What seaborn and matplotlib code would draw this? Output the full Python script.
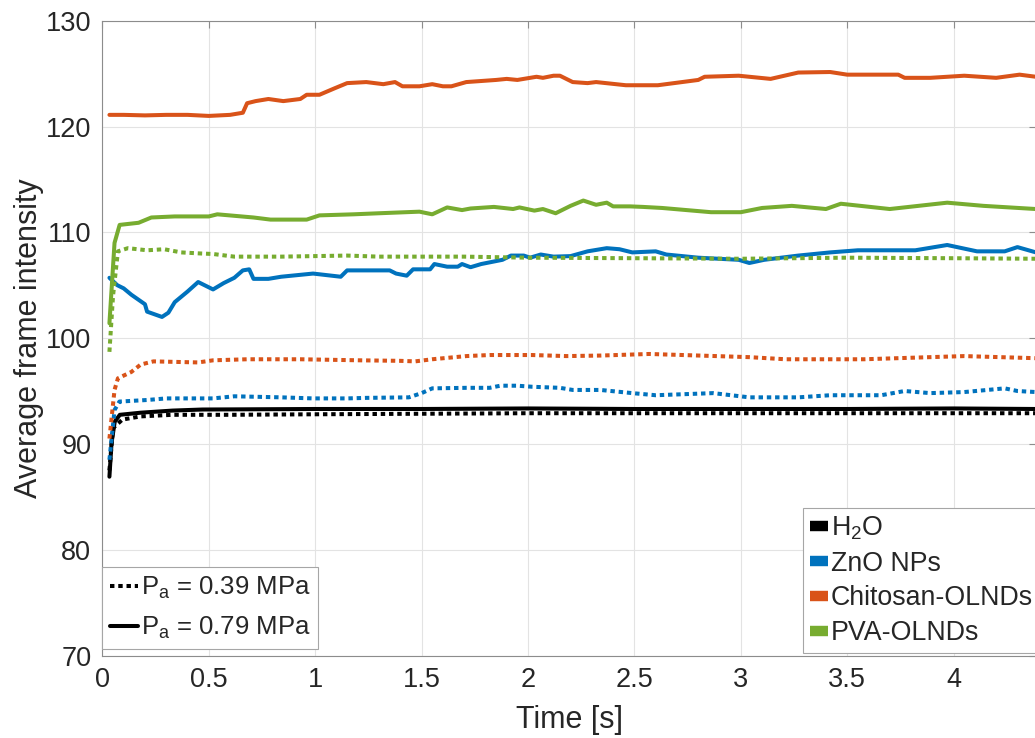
import numpy as np
import pandas as pd
import matplotlib
matplotlib.use("Agg")
import matplotlib.pyplot as plt
from matplotlib.lines import Line2D
import seaborn as sns

# ---------------- data ----------------
# H2O, Pa = 0.79 MPa (solid)
t_h2o_079 = [0.033, 0.043, 0.058, 0.082, 0.18, 0.33, 0.47, 1.0, 1.5, 2.0, 2.5, 3.0, 3.5, 4.0, 4.387]
v_h2o_079 = [86.9, 90.1, 92.1, 92.75, 92.95, 93.15, 93.25, 93.3, 93.3, 93.35, 93.3, 93.3, 93.3, 93.35, 93.3]
# H2O, Pa = 0.39 MPa (dotted)
t_h2o_039 = [0.033, 0.05, 0.094, 0.18, 0.33, 0.6, 1.0, 2.0, 3.0, 4.0, 4.387]
v_h2o_039 = [87.5, 91.5, 92.3, 92.6, 92.75, 92.75, 92.8, 92.9, 92.9, 92.9, 92.9]

# ZnO NPs, 0.79 MPa
t_zno_079 = [0.033, 0.07, 0.1, 0.136, 0.2, 0.21, 0.28, 0.31, 0.34, 0.40, 0.45, 0.52, 0.57, 0.62, 0.66,
             0.69, 0.71, 0.78, 0.84, 0.99, 1.12, 1.15, 1.30, 1.35, 1.38, 1.43, 1.46, 1.54, 1.56, 1.62,
             1.67, 1.69, 1.73, 1.78, 1.88, 1.92, 1.98, 2.01, 2.06, 2.12, 2.2, 2.28, 2.37, 2.43, 2.49,
             2.6, 2.65, 2.8, 2.99, 3.04, 3.11, 3.27, 3.42, 3.55, 3.66, 3.82, 3.97, 4.11, 4.24, 4.30, 4.387]
v_zno_079 = [105.7, 105.0, 104.7, 104.1, 103.2, 102.5, 102.0, 102.4, 103.4, 104.4, 105.3, 104.6, 105.2, 105.7, 106.4,
             106.5, 105.6, 105.6, 105.8, 106.1, 105.8, 106.4, 106.4, 106.4, 106.1, 105.9, 106.5, 106.5, 107.0, 106.75,
             106.75, 107.0, 106.7, 107.0, 107.4, 107.8, 107.8, 107.6, 107.9, 107.7, 107.75, 108.2, 108.5, 108.4, 108.1,
             108.2, 107.9, 107.6, 107.4, 107.1, 107.4, 107.8, 108.1, 108.3, 108.3, 108.3, 108.8, 108.2, 108.2, 108.6, 108.1]
# ZnO NPs, 0.39 MPa
t_zno_039 = [0.033, 0.057, 0.08, 0.21, 0.3, 0.52, 0.62, 0.84, 0.99, 1.15, 1.24, 1.44, 1.5, 1.55, 1.71, 1.82,
             1.87, 1.95, 2.02, 2.15, 2.21, 2.34, 2.49, 2.6, 2.87, 3.04, 3.27, 3.42, 3.66, 3.77, 3.89, 4.05,
             4.24, 4.30, 4.387]
v_zno_039 = [88.5, 93.2, 94.0, 94.15, 94.3, 94.3, 94.5, 94.4, 94.3, 94.3, 94.35, 94.4, 94.8, 95.25, 95.3, 95.3,
             95.5, 95.5, 95.4, 95.3, 95.1, 95.1, 94.8, 94.6, 94.8, 94.4, 94.4, 94.6, 94.6, 95.0, 94.8, 94.9,
             95.25, 95.0, 94.9]

# Chitosan-OLNDs, 0.79 MPa
t_chi_079 = [0.033, 0.1, 0.2, 0.3, 0.4, 0.5, 0.6, 0.66, 0.68, 0.72, 0.78, 0.85, 0.93, 0.96, 1.02, 1.09,
             1.15, 1.24, 1.32, 1.375, 1.41, 1.49, 1.55, 1.6, 1.64, 1.71, 1.85, 1.9, 1.95, 2.04, 2.07, 2.12,
             2.15, 2.21, 2.28, 2.32, 2.46, 2.61, 2.8, 2.83, 2.99, 3.14, 3.27, 3.42, 3.5, 3.74, 3.77, 3.89,
             4.05, 4.2, 4.31, 4.387]
v_chi_079 = [121.1, 121.1, 121.05, 121.1, 121.1, 121.0, 121.1, 121.3, 122.2, 122.4, 122.6, 122.4, 122.6, 123.0, 123.0, 123.6,
             124.1, 124.2, 124.0, 124.2, 123.8, 123.8, 124.0, 123.8, 123.8, 124.2, 124.4, 124.5, 124.4, 124.7, 124.6, 124.8,
             124.8, 124.2, 124.1, 124.2, 123.9, 123.9, 124.4, 124.7, 124.8, 124.5, 125.1, 125.15, 124.9, 124.9, 124.6, 124.6,
             124.8, 124.6, 124.9, 124.7]
# Chitosan-OLNDs, 0.39 MPa
t_chi_039 = [0.033, 0.057, 0.073, 0.136, 0.18, 0.24, 0.45, 0.52, 0.68, 0.93, 1.21, 1.4, 1.47, 1.55, 1.71,
             1.82, 2.02, 2.18, 2.34, 2.57, 3.04, 3.21, 3.58, 3.89, 4.05, 4.387]
v_chi_039 = [90.5, 95.1, 96.2, 96.8, 97.5, 97.8, 97.7, 97.9, 98.0, 98.0, 97.9, 97.85, 97.8, 98.0, 98.3,
             98.4, 98.4, 98.3, 98.35, 98.5, 98.2, 98.0, 98.0, 98.2, 98.3, 98.1]

# PVA-OLNDs, 0.79 MPa
t_pva_079 = [0.033, 0.057, 0.081, 0.17, 0.23, 0.34, 0.5, 0.54, 0.71, 0.79, 0.96, 1.02, 1.18, 1.30, 1.49,
             1.55, 1.62, 1.69, 1.73, 1.84, 1.93, 1.96, 2.03, 2.07, 2.13, 2.2, 2.26, 2.32, 2.37, 2.4, 2.48,
             2.54, 2.63, 2.86, 3.0, 3.1, 3.24, 3.40, 3.47, 3.70, 3.97, 4.14, 4.387]
v_pva_079 = [101.4, 109.0, 110.7, 110.9, 111.4, 111.5, 111.5, 111.7, 111.4, 111.2, 111.2, 111.6, 111.7, 111.8, 111.95,
             111.7, 112.35, 112.1, 112.25, 112.4, 112.2, 112.35, 112.05, 112.2, 111.8, 112.5, 113.0, 112.6, 112.8, 112.45, 112.45,
             112.4, 112.3, 111.9, 111.9, 112.3, 112.5, 112.2, 112.7, 112.2, 112.8, 112.5, 112.2]
# PVA-OLNDs, 0.39 MPa
t_pva_039 = [0.033, 0.05, 0.073, 0.12, 0.21, 0.29, 0.37, 0.46, 0.52, 0.62, 0.84, 1.15, 1.3, 1.7, 2.0,
             2.5, 3.0, 3.5, 4.0, 4.387]
v_pva_039 = [98.7, 104.0, 108.2, 108.5, 108.3, 108.4, 108.1, 108.0, 107.95, 107.7, 107.7, 107.8, 107.7, 107.7, 107.6,
             107.55, 107.5, 107.6, 107.55, 107.5]

materials = ["H$_2$O", "ZnO NPs", "Chitosan-OLNDs", "PVA-OLNDs"]
colors = ["#000000", "#0072BD", "#D95319", "#77AC30"]
pressure_labels = ["P$_\\mathrm{a}$ = 0.39 MPa", "P$_\\mathrm{a}$ = 0.79 MPa"]
x_ticks = [0, 0.5, 1, 1.5, 2, 2.5, 3, 3.5, 4]
x_tick_labels = ["0", "0.5", "1", "1.5", "2", "2.5", "3", "3.5", "4"]
y_ticks = [70, 80, 90, 100, 110, 120, 130]

# ---------------- style ----------------
sns.set_style("white")
plt.rcParams["font.family"] = ["Liberation Sans", "DejaVu Sans"]
plt.rcParams["mathtext.fontset"] = "custom"
plt.rcParams["mathtext.rm"] = "Liberation Sans"
plt.rcParams["mathtext.it"] = "Liberation Sans:italic"
plt.rcParams["mathtext.bf"] = "Liberation Sans:bold"

W, H = 1035, 738
fig = plt.figure(figsize=(W / 100, H / 100), dpi=100)
ax_left, ax_right, ax_top, ax_bot = 102.4, 1036.0, 20.7, 655.5
ax = fig.add_axes([ax_left / W, 1 - ax_bot / H, (ax_right - ax_left) / W, (ax_bot - ax_top) / H])

solid_series = [(t_h2o_079, v_h2o_079), (t_zno_079, v_zno_079), (t_chi_079, v_chi_079), (t_pva_079, v_pva_079)]
dotted_series = [(t_h2o_039, v_h2o_039), (t_zno_039, v_zno_039), (t_chi_039, v_chi_039), (t_pva_039, v_pva_039)]

LW = 2.9
DOT = (0, (1.1, 0.95))
for (t, v), c in zip(solid_series, colors):
    sns.lineplot(x=t, y=v, ax=ax, color=c, linewidth=LW, estimator=None, sort=False, zorder=3)
for (t, v), c in zip(dotted_series, colors):
    sns.lineplot(x=t, y=v, ax=ax, color=c, linewidth=LW, linestyle=DOT, estimator=None, sort=False, zorder=4)

ax.set_xlim(0, (ax_right - ax_left) / 212.8)
ax.set_ylim(70, 130)
ax.set_xticks(x_ticks)
ax.set_xticklabels(x_tick_labels)
ax.set_yticks(y_ticks)

ax.grid(True, color="#e3e3e3", linewidth=0.8, zorder=0)
ax.set_axisbelow(True)
for s in ax.spines.values():
    s.set_color("#8c8c8c")
    s.set_linewidth(0.8)
ax.tick_params(axis="both", which="both", direction="in", length=5, width=0.8, color="#8c8c8c",
               top=True, right=True, labelsize=19.5, labelcolor="#262626", pad=8)

ax.set_xlabel("Time [s]", fontsize=22, color="#262626", labelpad=9)
ax.set_ylabel("Average frame intensity", fontsize=22, color="#262626", labelpad=1)

# legend: materials
mat_handles = [Line2D([], [], color=c, lw=7.5, solid_capstyle="butt") for c in colors]
leg1 = ax.legend(mat_handles, materials, loc="upper left",
                 bbox_to_anchor=(803 / W, 1 - 508 / H), bbox_transform=fig.transFigure,
                 fontsize=19.3, handlelength=0.7, handletextpad=0.08, labelspacing=0.32,
                 borderpad=0.25, borderaxespad=0, frameon=True, fancybox=False, framealpha=1)
leg1.get_frame().set_edgecolor("#a6a6a6")
leg1.get_frame().set_linewidth(0.8)
leg1.set_zorder(10)
ax.add_artist(leg1)

# legend: pressures
p_handles = [Line2D([], [], color="black", lw=LW, linestyle=DOT),
             Line2D([], [], color="black", lw=LW, linestyle="-")]
leg2 = ax.legend(p_handles, pressure_labels, loc="upper left",
                 bbox_to_anchor=(102.4 / W, 1 - 567 / H), bbox_transform=fig.transFigure,
                 fontsize=18.5, handlelength=1.1, handletextpad=0.1, labelspacing=0.55,
                 borderpad=0.3, borderaxespad=0, frameon=True, fancybox=False, framealpha=1)
leg2.get_frame().set_edgecolor("#a6a6a6")
leg2.get_frame().set_linewidth(0.8)
leg2.set_zorder(10)

fig.savefig("out.png", dpi=100)
